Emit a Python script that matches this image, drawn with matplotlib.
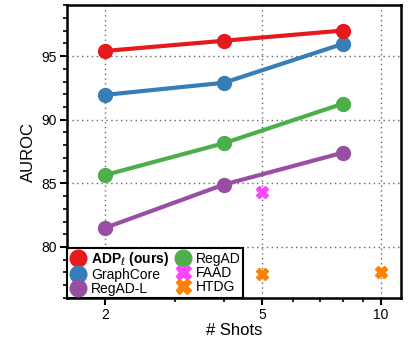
import numpy as np
import matplotlib.pyplot as plt
from matplotlib.ticker import FixedLocator, NullFormatter, MultipleLocator

plt.rcParams['font.family'] = ['Liberation Sans', 'DejaVu Sans']

# data
shots = [2, 4, 8]
adp = [95.4, 96.2, 97.0]
graphcore = [91.95, 92.9, 95.95]
regad = [85.65, 88.15, 91.25]
regad_l = [81.5, 84.9, 87.4]
faad_x, faad_y = [5], [84.3]
htdg_x, htdg_y = [5, 10], [77.9, 78.0]

fig = plt.figure(figsize=(4.1, 3.42), dpi=100)
ax = fig.add_axes([0.163, 0.129, 0.815, 0.856])

lw, ms = 3, 10
ax.plot(shots, adp, '-o', color='#e41a1c', lw=lw, ms=ms, label=r'ADP$_\ell$ (ours)', zorder=5)
ax.plot(shots, graphcore, '-o', color='#377eb8', lw=lw, ms=ms, label='GraphCore', zorder=4)
ax.plot(shots, regad_l, '-o', color='#984ea3', lw=lw, ms=ms, label='RegAD-L', zorder=4)
ax.plot(shots, regad, '-o', color='#4daf4a', lw=lw, ms=ms, label='RegAD', zorder=4)
ax.plot(faad_x, faad_y, 'X', color='#ff44ff', ms=9, ls='none', label='FAAD')
ax.plot(htdg_x, htdg_y, 'X', color='#ff7f00', ms=9, ls='none', label='HTDG')

ax.set_xscale('log')
ax.set_xlim(1.6, 11.25)
ax.set_ylim(76, 99)
ax.xaxis.set_major_locator(FixedLocator([2, 5, 10]))
ax.xaxis.set_minor_locator(FixedLocator([3, 4, 6, 7, 8, 9]))
ax.xaxis.set_minor_formatter(NullFormatter())
ax.set_xticklabels(['2', '5', '10'])
ax.yaxis.set_major_locator(MultipleLocator(5))
ax.yaxis.set_minor_locator(MultipleLocator(1))

ax.grid(True, which='major', ls=(0, (1, 2.5)), color='#666666', lw=1)
ax.tick_params(which='major', length=5, width=1.5, labelsize=10, pad=2)
ax.tick_params(which='minor', length=3, width=1.2)
for s in ax.spines.values():
    s.set_linewidth(1.8)

ax.set_xlabel('# Shots', fontsize=12, labelpad=1)
ax.set_ylabel('AUROC', fontsize=12)

leg = ax.legend(loc='lower left', ncol=2, fontsize=10, frameon=True, fancybox=False,
                edgecolor='black', framealpha=1, borderpad=0.15, handletextpad=0.3,
                columnspacing=0.3, labelspacing=-0.02, handlelength=1.3,
                borderaxespad=0.0, markerscale=1.2)
leg.get_frame().set_linewidth(1.5)
for t in leg.get_texts():
    if 'ours' in t.get_text():
        t.set_fontweight('bold')
for h in leg.legend_handles:
    h.set_linestyle('none')

fig.savefig('out.png', dpi=100)
